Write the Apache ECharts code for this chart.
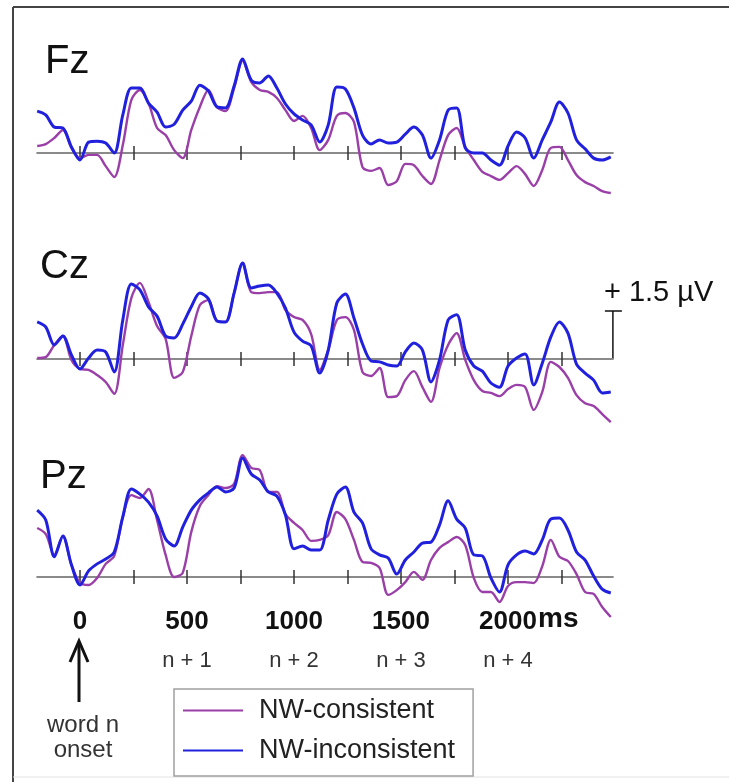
<!DOCTYPE html>
<html><head><meta charset="utf-8">
<script src="https://cdn.jsdelivr.net/npm/echarts@6/dist/echarts.min.js"></script>
<style>html,body{margin:0;padding:0;background:#fff}#c{width:729px;height:782px}</style>
</head><body><div id="c"></div>
<script>
// sampling times (ms)
const times = [-200,-160,-120,-80,-40,0,40,80,120,160,200,240,280,320,360,400,440,480,520,560,600,640,680,720,760,800,840,880,920,960,1000,1040,1080,1120,1160,1200,1240,1280,1320,1360,1400,1440,1480,1520,1560,1600,1640,1680,1720,1760,1800,1840,1880,1920,1960,2000,2040,2080,2120,2160,2200,2240,2280,2320,2360,2400,2440,2480];
// amplitudes (µV)
const fzConsistent = [0.22,0.28,0.47,0.72,0.16,-0.16,-0.06,-0.06,-0.41,-0.75,0.25,1.66,1.97,1.56,0.78,0.56,0.09,-0.16,0.72,1.44,1.97,1.44,1.31,2.03,2.88,2.22,1.97,1.91,1.72,1.34,1.0,1.16,0.78,0.09,0.41,1.16,1.25,0.97,-0.44,-0.56,-0.47,-1.0,-0.88,-0.34,-0.38,-0.72,-0.97,-0.22,0.56,0.78,0.19,-0.22,-0.59,-0.72,-0.84,-0.63,-0.41,-0.66,-1.03,-0.53,0.16,0.19,-0.22,-0.69,-0.91,-1.03,-1.19,-1.25];
const fzInconsistent = [1.31,1.19,0.81,0.78,0.19,-0.22,0.34,0.37,0.31,0,1.19,2.03,2.03,1.56,1.28,0.81,0.9,1.34,1.62,2.12,1.94,1.44,1.41,2.09,2.94,2.28,2.19,2.41,2.03,1.53,1.22,1.03,0.88,0.34,0.88,2.06,2.0,1.41,0.56,0.28,0.41,0.31,0.34,0.59,0.81,0.56,-0.16,0.41,1.34,1.41,0.16,0,0,-0.22,-0.38,0.22,0.66,0.47,-0.16,0.41,0.97,1.59,1.25,0.41,0.13,-0.16,-0.22,-0.12];
const czConsistent = [0.03,0.06,0.44,0.72,-0.03,-0.31,-0.34,-0.5,-0.72,-1.09,0.44,1.91,2.38,1.78,1.03,0.63,-0.59,-0.41,0.72,1.69,1.84,1.19,1.16,2.06,3.0,2.09,2.06,2.09,2.09,1.53,1.31,1.22,0.78,-0.34,0.28,1.22,1.31,0.91,-0.41,-0.53,-0.28,-1.19,-1.16,-0.66,-0.38,-0.88,-1.34,-0.28,0.44,0.81,-0.03,-0.66,-1.0,-1.06,-1.16,-0.94,-0.81,-0.88,-1.59,-1.03,-0.09,-0.25,-0.59,-1.13,-1.38,-1.47,-1.72,-1.97];
const czInconsistent = [1.16,1.0,0.44,0.72,0.13,-0.31,0.03,0.28,0.22,-0.41,1.22,2.34,2.16,1.63,1.34,0.72,0.66,1.09,1.63,2.06,1.88,1.19,1.16,2.06,3.0,2.22,2.28,2.31,2.06,1.59,0.84,0.56,0.41,-0.44,0.28,1.75,2.03,1.28,0.47,-0.06,-0.09,-0.19,-0.22,0.22,0.5,0.28,-0.72,-0.03,1.22,1.38,0.28,-0.22,-0.38,-0.75,-0.88,-0.22,0.03,0.16,-0.81,-0.13,0.69,1.16,0.81,-0.16,-0.44,-0.66,-1.06,-1.03];
const pzConsistent = [1.53,1.34,0.69,1.28,0.38,-0.19,-0.25,-0.03,0.41,0.66,1.88,2.56,2.47,2.75,1.78,0.69,0,0.13,1.41,2.22,2.56,2.84,2.78,2.91,3.81,3.41,3.34,2.66,2.66,1.97,1.69,1.47,1.13,1.16,1.31,2.03,1.81,1.16,0.47,0.44,0.28,-0.56,-0.41,-0.16,0.16,-0.09,0.53,0.91,1.09,1.25,1.0,-0.03,-0.47,-0.47,-0.78,-0.28,-0.16,-0.16,-0.19,0.34,1.16,0.63,0.5,0.09,-0.47,-0.53,-0.94,-1.25];
const pzInconsistent = [2.09,1.78,0.63,1.28,0.38,-0.25,0.19,0.41,0.56,0.78,1.88,2.75,2.59,2.34,1.91,1.19,0.97,1.56,2.09,2.41,2.63,2.81,2.66,2.78,3.72,3.22,3.03,2.66,2.53,1.94,0.88,0.97,0.84,0.84,1.78,2.59,2.81,2.03,1.69,0.88,0.69,0.59,0.09,0.53,0.78,1.06,1.09,1.63,2.38,1.81,1.53,0.69,0.66,-0.03,-0.47,0.38,0.69,0.81,0.72,1.16,1.81,1.84,1.47,0.78,0.53,0.03,-0.38,-0.5];

const channelNames = ['Fz', 'Cz', 'Pz'];
const seriesNames = ['NW-consistent', 'NW-inconsistent'];
const tickValues = [0, 250, 500, 750, 1000, 1250, 1500, 1750, 2000, 2250];
const labelValues = [0, 500, 1000, 1500, 2000];
const wordLabels = { 500: 'n + 1', 1000: 'n + 2', 1500: 'n + 3', 2000: 'n + 4' };
const scaleBarValue = 1.5;
const timeMin = -200, timeMax = 2490;

const channelData = [
  [fzConsistent, fzInconsistent],
  [czConsistent, czInconsistent],
  [pzConsistent, pzInconsistent]
];

// layout
const FONT = 'Arial, "Liberation Sans", sans-serif';
const baselines = [153, 359, 577];
const pxPerUv = 32;
const yMax = 4;
const colors = ['#9a3ea8', '#2020dd'];
const widths = [2.4, 3];
const N = baselines.length;

const gridBox = b => ({ left: 37.2, right: 116.1, top: b - yMax * pxPerUv, height: yMax * pxPerUv });
const grids = baselines.map(gridBox).concat(baselines.map(gridBox));

const xAxes = [];
const yAxes = [];
const series = [];
const tickStyle = { color: '#333', width: 1.5 };
// data axes: baseline at grid bottom (0 µV), ticks downward, labels on last panel
baselines.forEach((b, i) => {
  const isLast = i === N - 1;
  xAxes.push({
    type: 'value', gridIndex: i, min: timeMin, max: timeMax, position: 'bottom',
    axisLine: { show: true, onZero: false, lineStyle: { color: '#8a8a8a', width: 2 } },
    axisTick: { show: true, customValues: tickValues, length: 7, lineStyle: tickStyle },
    axisLabel: isLast ? {
      show: true, customValues: labelValues, margin: 27,
      formatter: v => v === 0 ? '{b|0}\n{n| }' : '{b|' + v + '}\n{n|' + wordLabels[v] + '}',
      rich: {
        b: { fontSize: 26, fontWeight: 'bold', fontFamily: FONT, color: '#111', lineHeight: 36 },
        n: { fontSize: 22, fontFamily: FONT, color: '#333', lineHeight: 42 }
      }
    } : { show: false },
    splitLine: { show: false }
  });
  yAxes.push({ type: 'value', gridIndex: i, min: 0, max: yMax, show: false, splitLine: { show: false } });
  channelData[i].forEach((vals, k) => {
    series.push({
      type: 'line', name: seriesNames[k], xAxisIndex: i, yAxisIndex: i,
      data: times.map((t, j) => [t, vals[j]]),
      symbol: 'none', smooth: 0.3, clip: false, z: 3 + k,
      lineStyle: { color: colors[k], width: widths[k] },
      itemStyle: { color: colors[k] }
    });
  });
});
// overlay axes: upward half of the tick marks
baselines.forEach((b, i) => {
  xAxes.push({
    type: 'value', gridIndex: N + i, min: timeMin, max: timeMax, position: 'bottom',
    axisLine: { show: false, onZero: false },
    axisTick: { show: true, inside: true, customValues: tickValues, length: 7, lineStyle: tickStyle },
    axisLabel: { show: false }, splitLine: { show: false }
  });
  yAxes.push({ type: 'value', gridIndex: N + i, min: 0, max: yMax, show: false, splitLine: { show: false } });
});

const chart = echarts.init(document.getElementById('c'), null, { renderer: 'canvas' });
chart.setOption({
  animation: false,
  backgroundColor: '#fff',
  grid: grids,
  xAxis: xAxes,
  yAxis: yAxes,
  series: series,
  legend: {
    data: seriesNames, left: 174, top: 689, orient: 'vertical', icon: 'rect',
    itemWidth: 60, itemHeight: 2, itemGap: 9, padding: [6, 18, 10, 9],
    borderColor: '#a0a0a0', borderWidth: 1.5, backgroundColor: '#fff',
    textStyle: { fontSize: 27, lineHeight: 31, color: '#222', fontFamily: FONT, padding: [0, 0, 0, 11] }
  }
});

// overlay elements
const p0 = chart.convertToPixel({ xAxisIndex: 1, yAxisIndex: 1 }, [timeMax, 0]);
const p1 = chart.convertToPixel({ xAxisIndex: 1, yAxisIndex: 1 }, [timeMax, scaleBarValue]);
const zeroX = chart.convertToPixel({ xAxisIndex: 2, yAxisIndex: 2 }, [0, 0])[0];
const ms2000 = chart.convertToPixel({ xAxisIndex: 2, yAxisIndex: 2 }, [2000, 0]);
const labelY = [62, 267, 477];
const labelX = [45, 40, 40];
const graphic = [];
channelNames.forEach((n, i) => {
  graphic.push({ type: 'text', style: { x: labelX[i], y: labelY[i], text: n, font: '40px ' + FONT, fill: '#111', verticalAlign: 'middle' } });
});
graphic.push(
  { type: 'line', shape: { x1: p0[0], y1: p0[1], x2: p1[0], y2: p1[1] }, style: { stroke: '#111', lineWidth: 1.5 } },
  { type: 'line', shape: { x1: p1[0] - 8, y1: p1[1], x2: p1[0] + 9, y2: p1[1] }, style: { stroke: '#111', lineWidth: 1.5 } },
  { type: 'text', style: { x: p1[0] - 9, y: p1[1] - 18, text: '+ ' + scaleBarValue + ' µV', font: '29px ' + FONT, fill: '#111', verticalAlign: 'middle' } },
  { type: 'text', style: { x: ms2000[0] + 30, y: ms2000[1] + 42, text: 'ms', font: 'bold 28px ' + FONT, fill: '#111', verticalAlign: 'middle' } },
  { type: 'polyline', shape: { points: [[zeroX - 1, 702], [zeroX - 1, 642]] }, style: { stroke: '#111', lineWidth: 3 } },
  { type: 'polyline', shape: { points: [[zeroX - 10, 662], [zeroX - 1, 641], [zeroX + 8, 662]] }, style: { stroke: '#111', lineWidth: 3, fill: null } },
  { type: 'text', style: { x: zeroX + 3, y: 725, text: 'word n', font: '24px ' + FONT, fill: '#333', align: 'center', verticalAlign: 'middle' } },
  { type: 'text', style: { x: zeroX + 3, y: 750, text: 'onset', font: '24px ' + FONT, fill: '#333', align: 'center', verticalAlign: 'middle' } },
  { type: 'line', shape: { x1: 13, y1: 7, x2: 729, y2: 7 }, style: { stroke: '#444', lineWidth: 2 } },
  { type: 'line', shape: { x1: 13, y1: 7, x2: 13, y2: 782 }, style: { stroke: '#444', lineWidth: 2 } },
  { type: 'line', shape: { x1: 13, y1: 777, x2: 729, y2: 777 }, style: { stroke: '#e2e2e2', lineWidth: 1 } }
);
chart.setOption({ graphic: graphic });
</script>
</body></html>
